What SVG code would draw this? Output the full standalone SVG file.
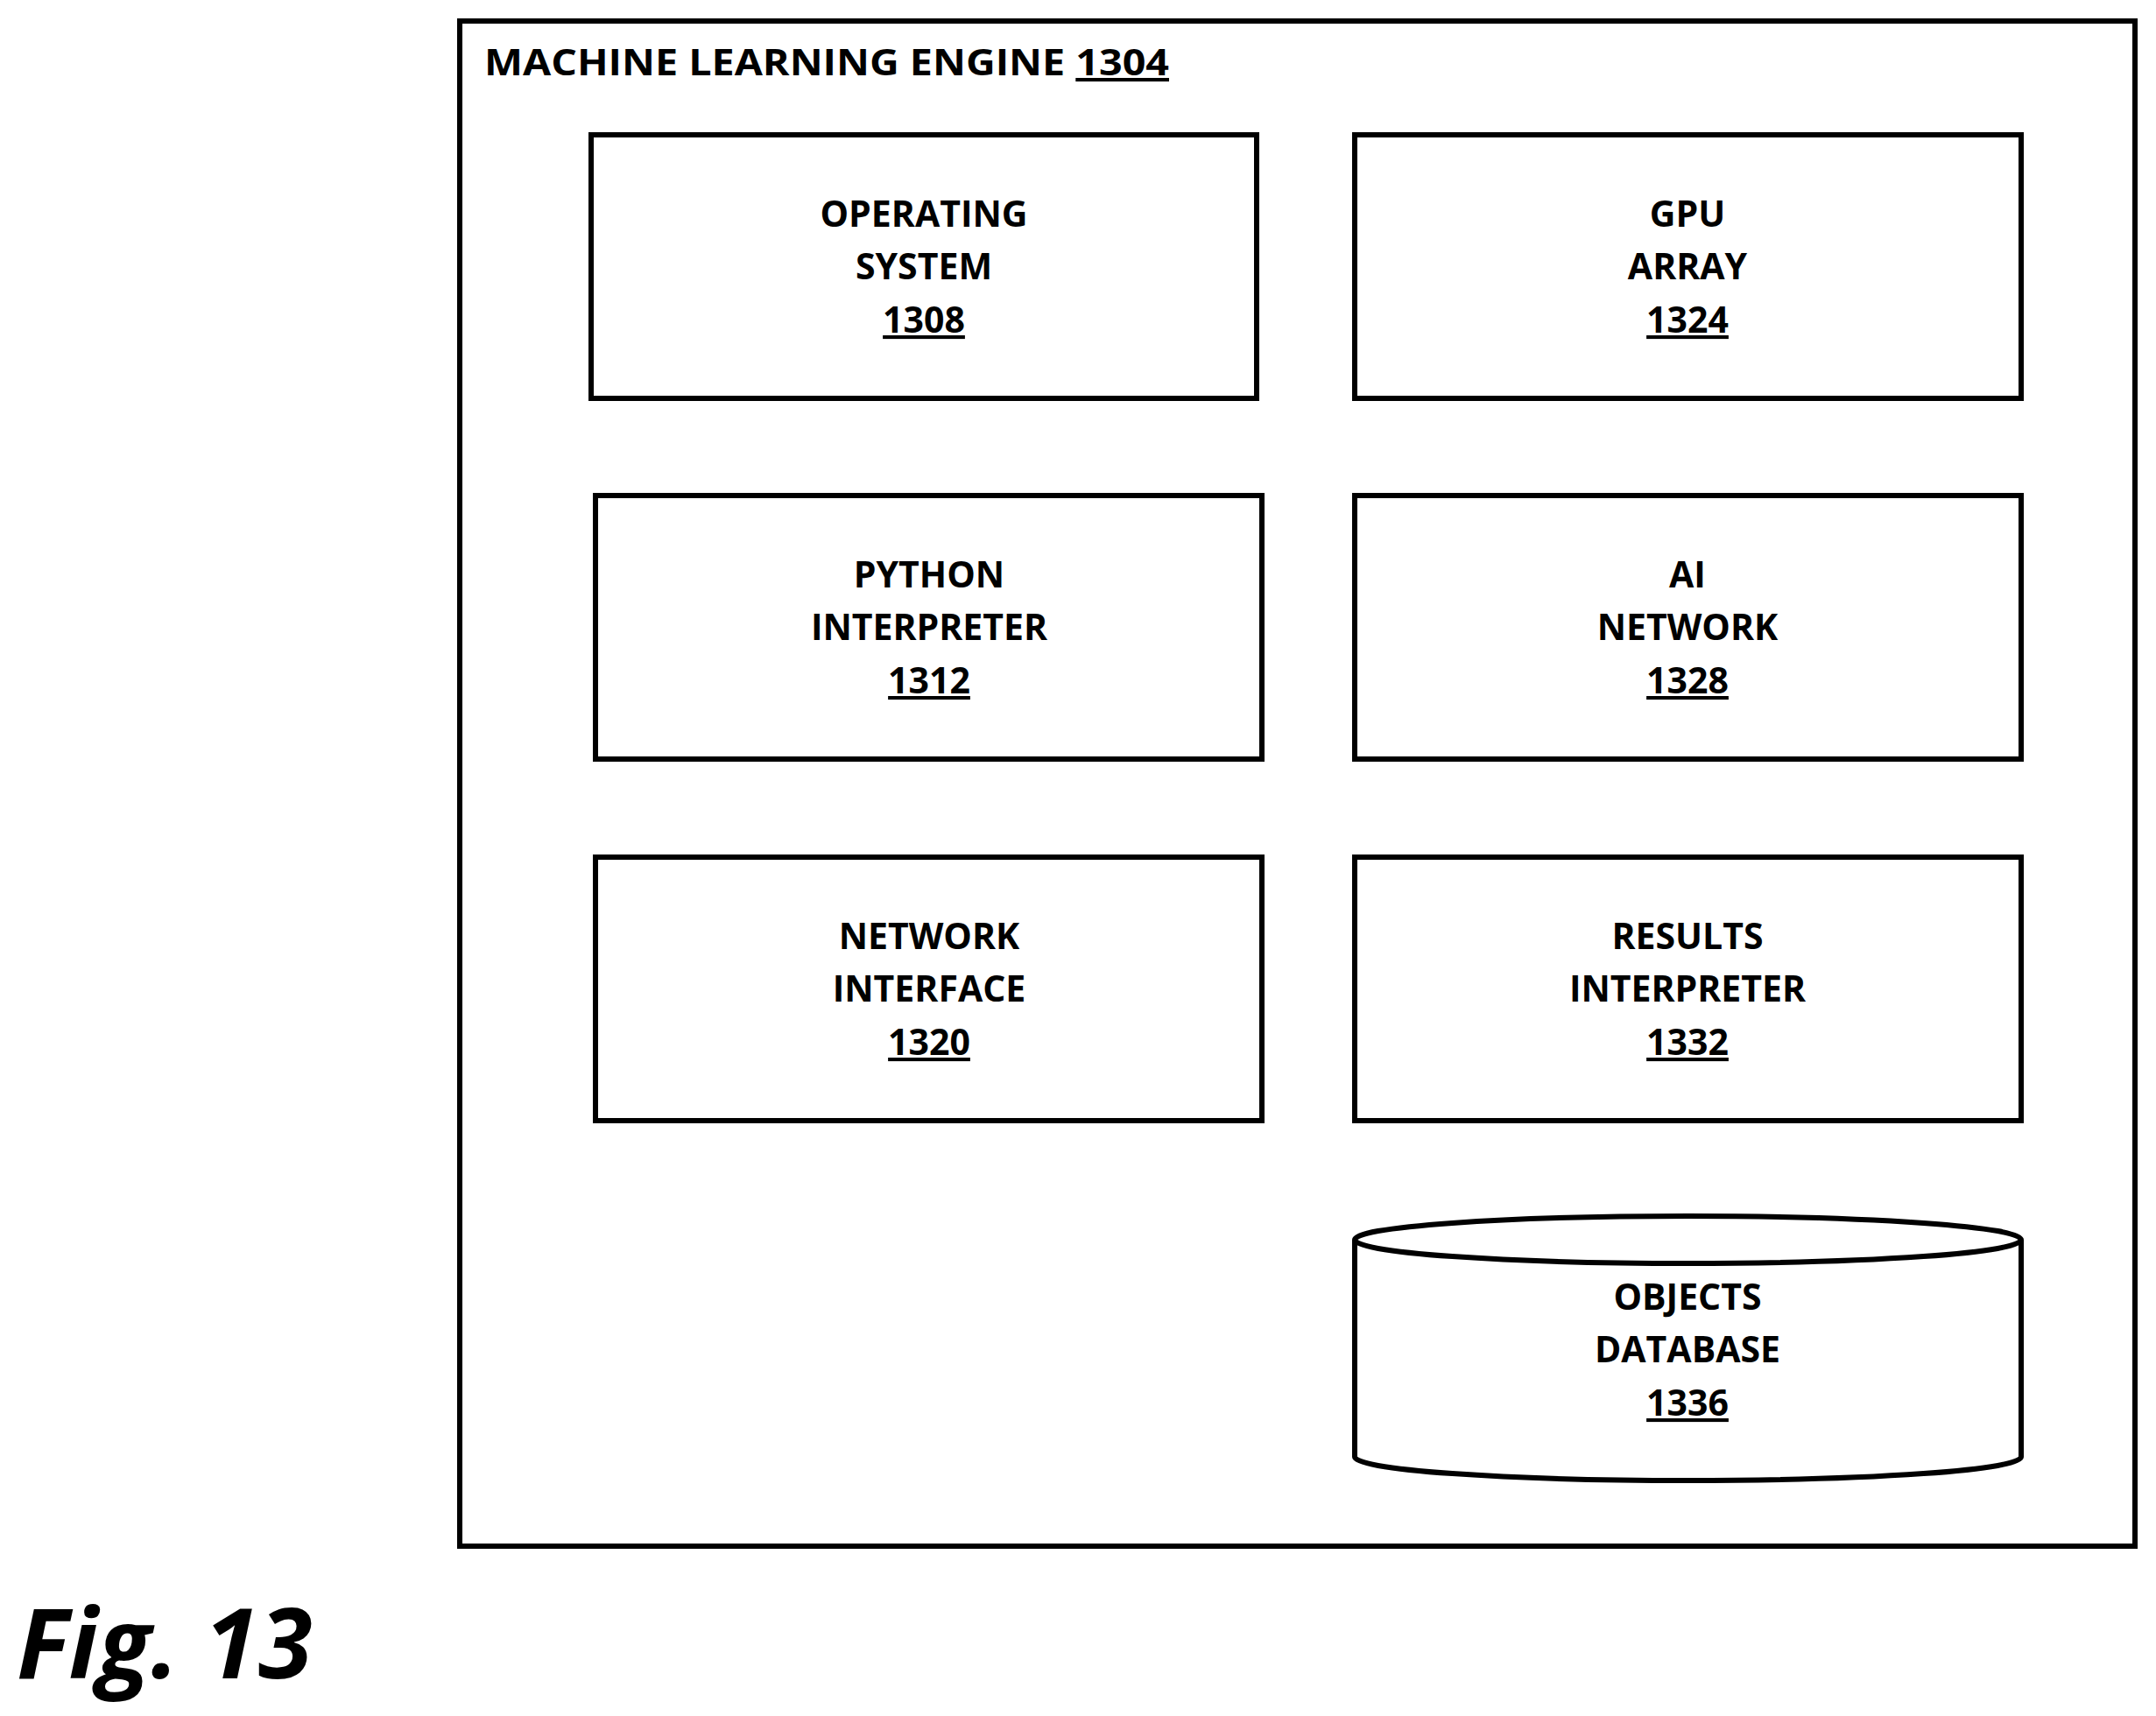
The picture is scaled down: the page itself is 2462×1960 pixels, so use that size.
<svg xmlns="http://www.w3.org/2000/svg" width="2462" height="1960" viewBox="0 0 2462 1960">
<style>
.b{fill:#fff;stroke:#000;stroke-width:6}
.t{font-family:"Open Sans","Liberation Sans",sans-serif;font-weight:700;font-size:41px;text-anchor:middle;fill:#000}
.u{text-decoration:underline}
</style>
<rect width="2462" height="1960" fill="#fff"/>
<g id="engine">
<rect class="b" x="525" y="24" width="1913" height="1742"/>
<text class="t" x="553" y="86" style="text-anchor:start" textLength="782" lengthAdjust="spacingAndGlyphs">MACHINE LEARNING ENGINE <tspan class="u">1304</tspan></text>
</g>
<g id="n1308"><rect class="b" x="675" y="154" width="760" height="301"/>
<text class="t" x="1055" y="259">OPERATING</text><text class="t" x="1055" y="319">SYSTEM</text><text class="t u" x="1055" y="380">1308</text></g>
<g id="n1324"><rect class="b" x="1547" y="154" width="761" height="301"/>
<text class="t" x="1927" y="259">GPU</text><text class="t" x="1927" y="319">ARRAY</text><text class="t u" x="1927" y="380">1324</text></g>
<g id="n1312"><rect class="b" x="680" y="566" width="761" height="301"/>
<text class="t" x="1061" y="671">PYTHON</text><text class="t" x="1061" y="731">INTERPRETER</text><text class="t u" x="1061" y="792">1312</text></g>
<g id="n1328"><rect class="b" x="1547" y="566" width="761" height="301"/>
<text class="t" x="1927" y="671">AI</text><text class="t" x="1927" y="731">NETWORK</text><text class="t u" x="1927" y="792">1328</text></g>
<g id="n1320"><rect class="b" x="680" y="979" width="761" height="301"/>
<text class="t" x="1061" y="1084">NETWORK</text><text class="t" x="1061" y="1144">INTERFACE</text><text class="t u" x="1061" y="1205">1320</text></g>
<g id="n1332"><rect class="b" x="1547" y="979" width="761" height="301"/>
<text class="t" x="1927" y="1084">RESULTS</text><text class="t" x="1927" y="1144">INTERPRETER</text><text class="t u" x="1927" y="1205">1332</text></g>
<g id="n1336">
<path class="b" d="M1547 1416 L1547 1664 A380.5 27 0 0 0 2308 1664 L2308 1416"/>
<ellipse class="b" cx="1927.5" cy="1416" rx="380.5" ry="27"/>
<text class="t" x="1927" y="1496">OBJECTS</text><text class="t" x="1927" y="1556">DATABASE</text><text class="t u" x="1927" y="1617">1336</text>
</g>
<g id="connectors"/>
<text x="19" y="1917" style="font-family:'Open Sans','Liberation Sans',sans-serif;font-weight:700;font-style:italic;font-size:112px">Fig. 13</text>
</svg>
